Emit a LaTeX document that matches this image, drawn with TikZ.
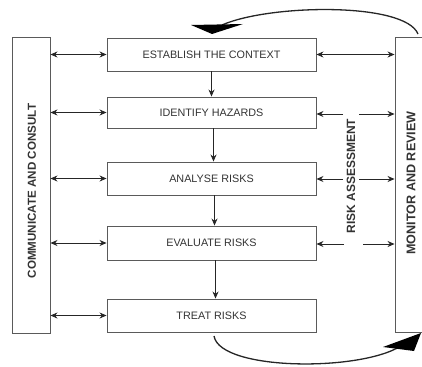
\documentclass[tikz,border=0pt]{standalone}
\usepackage{fontspec}
\setmainfont{Liberation Sans}
\usetikzlibrary{arrows.meta}
\definecolor{linegray}{HTML}{5A5A5A}
\definecolor{textgray}{HTML}{333333}
\begin{document}
\begin{tikzpicture}[x=1pt,y=-1pt,
  stepbox/.style={draw=linegray,line width=0.9pt,minimum width=209pt,minimum height=33pt,inner sep=0pt,
     font=\fontsize{10.8}{12}\selectfont,text=textgray},
  sidebox/.style={draw=linegray,line width=0.9pt,inner sep=0pt},
  sidetext/.style={rotate=90,text=textgray},
  conn/.style={draw=black!85,line width=0.8pt},
  tip/.style={-{Stealth[length=7pt,width=6pt]}},
  bothtip/.style={{Stealth[length=7pt,width=6pt]}-{Stealth[length=7pt,width=6pt]}}
]
\useasboundingbox (0,0) rectangle (422,366);
\clip (0,0) rectangle (422,366);
% side boxes
\node[sidebox,minimum width=38pt,minimum height=296pt] (lb) at (31,185.5) {};
\node[sidetext,font=\bfseries\fontsize{11.6}{13}\selectfont] (lt) at (32,191) {COMMUNICATE AND CONSULT};
\node[sidebox,minimum width=40pt,minimum height=295pt] (rb) at (415,185) {};
\node[sidetext,font=\bfseries\fontsize{12.6}{14}\selectfont] (rt) at (411,183) {MONITOR AND REVIEW};
\node[sidetext,font=\bfseries\fontsize{12}{14}\selectfont] (ra) at (351,176) {RISK ASSESSMENT};
% steps
\node[stepbox] (b1) at (211.5,54.5) {ESTABLISH THE CONTEXT};
\node[stepbox,minimum height=31pt] (b2) at (211.5,112.5) {IDENTIFY HAZARDS};
\node[stepbox] (b3) at (211.5,178.5) {ANALYSE RISKS};
\node[stepbox,minimum height=34pt] (b4) at (211.5,243) {EVALUATE RISKS};
\node[stepbox] (b5) at (211.5,315.5) {TREAT RISKS};
% vertical arrows
\draw[conn,tip] (b1.south) -- (b2.north);
\draw[conn,tip] ([xshift=2pt]b2.south) -- ([xshift=2pt]b3.north);
\draw[conn,tip] ([xshift=3pt]b3.south) -- ([xshift=3pt]b4.north);
\draw[conn,tip] ([xshift=4pt]b4.south) -- ([xshift=4pt]b5.north);
% left arrows
\foreach \b in {b1,b2,b3,b4,b5}{
  \draw[conn,bothtip] (lb.east |- \b.west) -- (\b.west);
}
% right arrows
\draw[conn,bothtip] (b1.east) -- (rb.west |- b1.east);
\coordinate (g2a) at (343,114);
\coordinate (g2b) at (359,114);
\draw[conn,tip] (g2a) -- (b2.east |- g2a);
\draw[conn,tip] (g2b) -- (rb.west |- g2b);
\coordinate (g3a) at (343,179);
\coordinate (g3b) at (359,179);
\draw[conn,tip] (g3a) -- (b3.east |- g3a);
\draw[conn,tip] (g3b) -- (rb.west |- g3b);
\coordinate (g4a) at (344,244);
\coordinate (g4b) at (363,244);
\draw[conn,tip] (g4a) -- (b4.east |- g4a);
\draw[conn,tip] (g4b) -- (rb.west |- g4b);
% top curved arrow
\coordinate (tstart) at (418,34);
\coordinate (tend) at (222,25);
\draw[black!85,line width=1.3pt] (tstart) .. controls (405,2) and (270,4) .. (tend);
\fill[black] (191,25) -- (243,24) -- (212,34) -- cycle;
% bottom curved arrow
\coordinate (bstart) at (214,336);
\coordinate (bend) at (405,343);
\draw[black!85,line width=1.3pt] (bstart) .. controls (220,372) and (370,372) .. (bend);
\fill[black] (383,347) -- (421,333) -- (414,351) -- cycle;
\end{tikzpicture}
\end{document}
